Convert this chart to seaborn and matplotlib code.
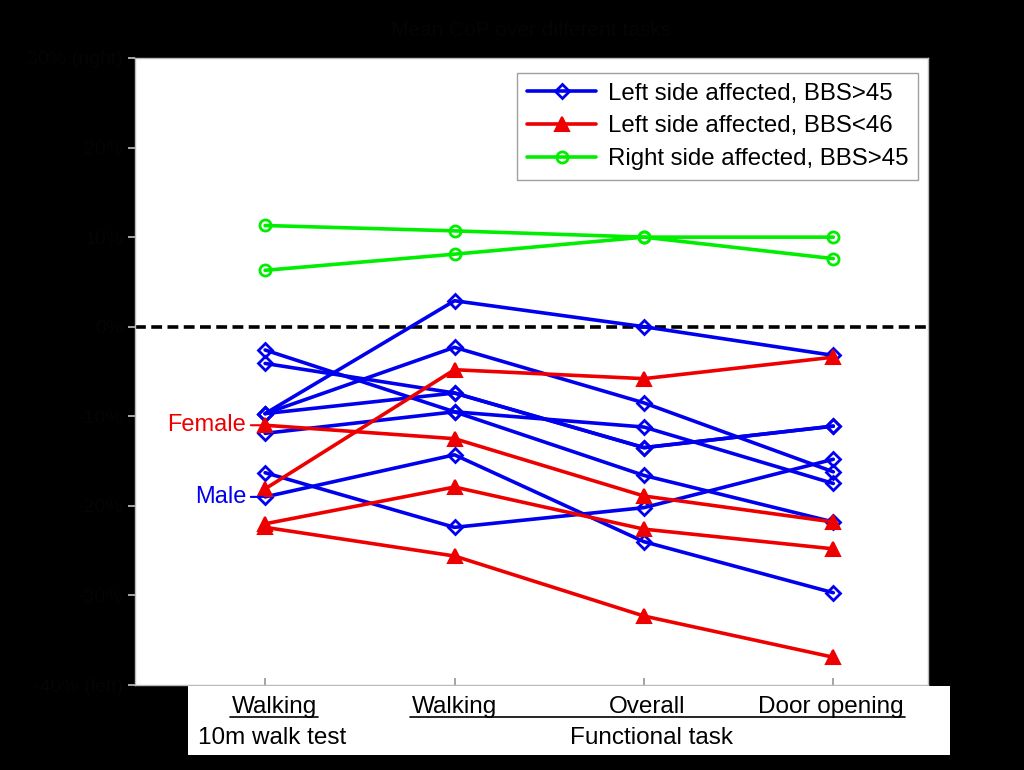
import matplotlib
matplotlib.use("Agg")
import matplotlib.pyplot as plt
from matplotlib.lines import Line2D
from matplotlib.patches import Rectangle
import seaborn as sns
import pandas as pd
import numpy as np

# ---- data ----
tasks = ["Walking", "Walking", "Overall", "Door opening"]
task_groups = ["10m walk test", "Functional task"]
positions = [1, 2, 3, 4]

blue_series = [
    [-9.7, 2.9, 0.0, -3.2],
    [-9.7, -2.3, -8.5, -16.2],
    [-2.6, -9.5, -16.6, -21.8],
    [-4.1, -7.4, -13.5, -11.1],
    [-9.7, -7.4, -13.5, -11.1],
    [-16.3, -22.4, -20.2, -14.8],
    [-19.0, -14.3, -24.0, -29.7],
    [-11.9, -9.5, -11.2, -17.5],
]
red_series = [
    [-18.1, -4.8, -5.8, -3.4],
    [-11.0, -12.5, -18.9, -21.8],
    [-22.0, -17.9, -22.6, -24.8],
    [-22.4, -25.6, -32.3, -36.9],
]
green_series = [
    [11.3, 10.7, 10.0, 10.0],
    [6.3, 8.1, 10.0, 7.6],
]
group_names = ["Left side affected, BBS>45",
               "Left side affected, BBS<46",
               "Right side affected, BBS>45"]
ytick_vals = [30, 20, 10, 0, -10, -20, -30, -40]
ytick_labels = ["30% (right)", "20%", "10%", "0%", "-10%", "-20%", "-30%", "-40% (left)"]
female_value = red_series[1][0]
male_value = blue_series[6][0]

rows = []
for gname, series in zip(group_names, [blue_series, red_series, green_series]):
    for i, s in enumerate(series):
        for p, v in zip(positions, s):
            rows.append({"group": gname, "subject": f"{gname}-{i}", "pos": p, "value": v})
df = pd.DataFrame(rows)

sns.set_theme(style="white")
plt.rcParams["font.family"] = ["Liberation Sans", "DejaVu Sans"]

fig = plt.figure(figsize=(10.24, 7.7), dpi=100, facecolor="black")
ax = fig.add_axes([135/1024, 1-685/770, (928-135)/1024, (685-58)/770])
ax.set_facecolor("white")

styles = {
    group_names[0]: dict(color="#0000ee", marker="D", markersize=7.5, mfc="none", mew=2),
    group_names[1]: dict(color="#ee0000", marker="^", markersize=10.5, mfc="#ee0000", mew=1.5),
    group_names[2]: dict(color="#00ee00", marker="o", markersize=8, mfc="none", mew=2),
}
for gname in group_names:
    st = styles[gname]
    sub = df[df.group == gname]
    sns.lineplot(data=sub, x="pos", y="value", units="subject", estimator=None,
                 ax=ax, color=st["color"], linewidth=2.6, marker=st["marker"],
                 markersize=st["markersize"], markerfacecolor=st["mfc"],
                 markeredgecolor=st["color"], markeredgewidth=st["mew"],
                 legend=False, sort=False)

ax.axhline(0, color="black", lw=2.6, ls=(0, (3, 1.5)), zorder=1)

ax.set_xlim(0.313, 4.5)
ax.set_ylim(-40, 30)
ax.set_xticks(positions)
ax.set_xticklabels([])
ax.set_yticks(ytick_vals)
ax.set_yticklabels(ytick_labels, fontsize=14, color="#050505")
ax.set_xlabel("")
ax.set_ylabel("")
ax.tick_params(axis="y", direction="out", length=5, color="#bbbbbb", left=True)
ax.tick_params(axis="x", direction="in", length=5, color="#999999", bottom=True)
for sp in ax.spines.values():
    sp.set_color("#bbbbbb")
    sp.set_linewidth(1)
ax.set_title("Mean CoP over different tasks", fontsize=15, color="#050505", pad=16)

# Female / Male annotations
ax.annotate("Female", xy=(0.99, female_value), xytext=(0.9, female_value),
            ha="right", va="center", color="#ee0000", fontsize=17,
            arrowprops=dict(arrowstyle="-", color="#ee0000", lw=1.5, shrinkA=1, shrinkB=0))
ax.annotate("Male", xy=(0.99, male_value), xytext=(0.9, male_value),
            ha="right", va="center", color="#0000ee", fontsize=17,
            arrowprops=dict(arrowstyle="-", color="#0000ee", lw=1.5, shrinkA=1, shrinkB=0))

# legend
handles = [Line2D([], [], color=styles[g]["color"], lw=2.6, marker=styles[g]["marker"],
                  markersize=styles[g]["markersize"], markerfacecolor=styles[g]["mfc"],
                  markeredgecolor=styles[g]["color"], markeredgewidth=styles[g]["mew"])
           for g in group_names]
leg = ax.legend(handles, group_names, loc="upper right", bbox_to_anchor=(0.988, 0.976),
                fontsize=17.3, frameon=True, fancybox=False, handlelength=2.9,
                borderpad=0.4, labelspacing=0.45, handletextpad=0.5, borderaxespad=0)
leg.get_frame().set_edgecolor("#888888")
leg.get_frame().set_linewidth(1)
for t in leg.get_texts():
    t.set_color("black")

# bottom category box
W, H = 1024, 770
def fx(px):
    return px / W
def fy(py):
    return 1 - py / H
fig.patches.append(Rectangle((fx(188), fy(755)), fx(950) - fx(188), fy(686) - fy(755),
                             transform=fig.transFigure, facecolor="white", edgecolor="none", zorder=0))
label_x = [275, 455, 647, 831]
for t, xp in zip(tasks, label_x):
    fig.text(fx(xp), fy(713), t, ha="center", va="baseline", fontsize=17.5, color="black")
fig.text(fx(272), fy(744), task_groups[0], ha="center", va="baseline", fontsize=17.5, color="black")
fig.text(fx(651), fy(744), task_groups[1], ha="center", va="baseline", fontsize=17.5, color="black")
fig.add_artist(Line2D([fx(230), fx(318)], [fy(717), fy(717)], color="black", lw=1.2,
                      transform=fig.transFigure))
fig.add_artist(Line2D([fx(410), fx(905)], [fy(717), fy(717)], color="black", lw=1.2,
                      transform=fig.transFigure))

fig.savefig("out.png", dpi=100, facecolor="black")
